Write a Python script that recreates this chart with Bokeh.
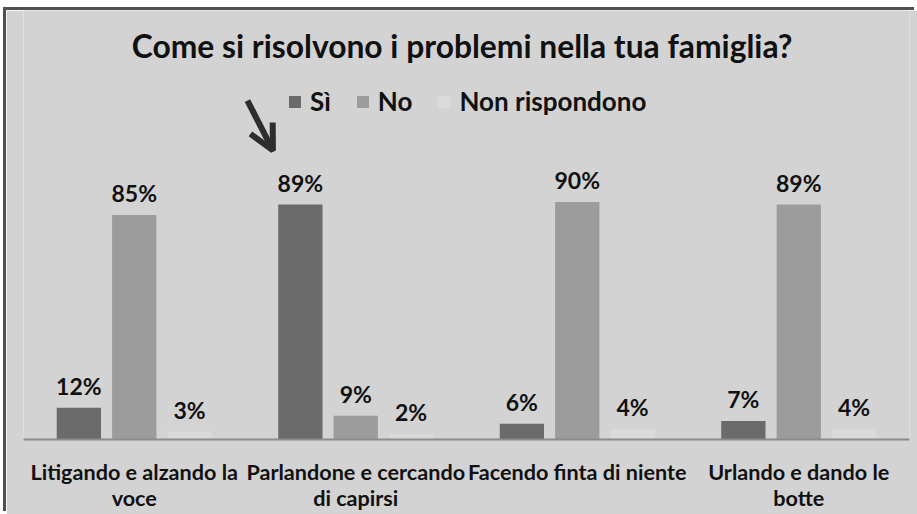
from bokeh.plotting import figure
from bokeh.models import ColumnDataSource, FactorRange, Range1d, Legend, LegendItem, Arrow, OpenHead, LabelSet
from bokeh.transform import dodge
from bokeh.core.properties import value
from bokeh.embed import file_html
from bokeh.resources import INLINE

title = "Come si risolvono i problemi nella tua famiglia?"
categories = ["Litigando e alzando la\nvoce", "Parlandone e cercando\ndi capirsi",
              "Facendo finta di niente", "Urlando e dando le\nbotte"]
series = ["Sì", "No", "Non rispondono"]
si = [12, 89, 6, 7]
no = [85, 9, 90, 89]
nr = [3, 2, 4, 4]
colors = ["#6b6b6b", "#9c9c9c", "#dadada"]

FONT = "Lato"
BG = "#d3d3d3"
TXT = "#111111"

src = ColumnDataSource(dict(
    cat=categories, si=si, no=no, nr=nr,
    si_l=[f"{v}%" for v in si], no_l=[f"{v}%" for v in no], nr_l=[f"{v}%" for v in nr],
))

x_range = FactorRange(factors=categories, range_padding=0)
p = figure(width=911, height=504, x_range=x_range, y_range=Range1d(0, 162.5),
           output_backend="svg", toolbar_location=None, y_axis_location=None,
           min_border_left=17, min_border_right=8, min_border_top=0, min_border_bottom=75,
           background_fill_color=BG, border_fill_color=BG, outline_line_color=None,
           margin=(10, 0, 0, 6), styles={"box-shadow": "-3px -3px 0 0 #505050"})
p.xgrid.visible = False
p.ygrid.visible = False

offsets = [-0.25, 0.0, 0.25]
keys = ["si", "no", "nr"]
renderers = []
for k, off, col in zip(keys, offsets, colors):
    r = p.vbar(x=dodge("cat", off, range=x_range), top=k, width=0.2, source=src,
               fill_color=col, line_color=None)
    renderers.append(r)
    labels = LabelSet(x=dodge("cat", off, range=x_range), y=k, text=k + "_l", source=src,
                      text_align="center", text_baseline="alphabetic", y_offset=13,
                      text_font=value(FONT), text_font_style="bold", text_font_size="23px",
                      text_color=TXT)
    p.add_layout(labels)

# chart title as text
p.text(x=[1.98], y=[148.9], text=[title], text_align="center", text_baseline="alphabetic",
       text_font=value(FONT), text_font_style="bold", text_font_size="31.8px", text_color=TXT)

legend = Legend(items=[LegendItem(label=s, renderers=[r]) for s, r in zip(series, renderers)],
                orientation="horizontal", location=(264, 322),
                label_text_font=FONT, label_text_font_style="bold", label_text_font_size="26px",
                label_text_color=TXT, glyph_width=15, glyph_height=15, label_height=25,
                label_standoff=8, spacing=24, padding=0, margin=0, border_line_color=None,
                background_fill_alpha=0)
p.add_layout(legend)

p.add_layout(Arrow(end=OpenHead(size=25, line_width=6, line_color="#2e2e2e"),
                   x_start=1.011, y_start=128.4, x_end=1.126, y_end=109.5,
                   line_width=6, line_color="#2e2e2e"))

ax = p.xaxis[0]
ax.axis_line_color = "#8c8c8c"
ax.axis_line_width = 2
ax.major_tick_line_color = None
ax.minor_tick_line_color = None
ax.major_label_standoff = 13
ax.major_label_text_font = FONT
ax.major_label_text_font_style = "bold"
ax.major_label_text_font_size = "21.6px"
ax.major_label_text_color = TXT
ax.major_label_text_line_height = 1.03

open("out.html", "w").write(file_html(p, INLINE))
